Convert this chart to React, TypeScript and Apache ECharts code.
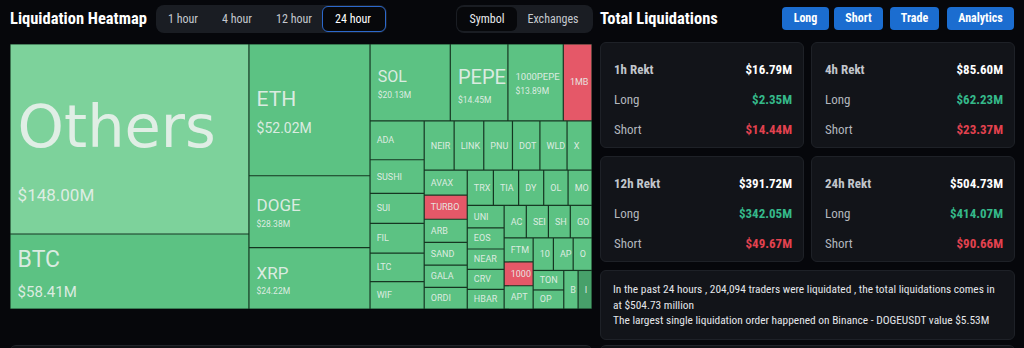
import React, { useEffect, useRef } from "react";
import * as echarts from "echarts";

// ---------- data ----------
const SYMBOLS = [
  "Others", "BTC", "ETH", "DOGE", "XRP", "SOL", "PEPE", "1000PEPE", "1MBABYDOGE",
  "ADA", "SUSHI", "SUI", "FIL", "LTC", "WIF",
  "NEIRO", "LINK", "PNUT", "DOT", "WLD", "X",
  "AVAX", "TURBO", "ARB", "SAND", "GALA", "ORDI",
  "TRX", "TIA", "DYDX", "OL", "MOODENG",
  "UNI", "EOS", "NEAR", "CRV", "HBAR",
  "ACT", "SEI", "SHIB", "GOAT",
  "FTM", "1000SATS", "APT",
  "1000BONK", "APE", "ONDO",
  "TON", "OP",
  "BOME", "INJ",
];
const VALUES_M = [
  148.0, 58.41, 52.02, 28.38, 24.22, 20.13, 14.45, 13.89, 7.2,
  6.85, 5.95, 5.3, 5.25, 5.0, 4.85,
  4.8, 4.75, 4.6, 4.4, 4.35, 4.0,
  3.5, 3.4, 3.25, 3.2, 3.1, 3.05,
  3.0, 2.9, 2.88, 2.8, 2.75,
  2.7, 2.55, 2.45, 2.4, 2.36,
  2.35, 2.34, 2.32, 2.3,
  2.28, 2.25, 2.2,
  2.15, 2.1, 2.0,
  1.95, 1.9,
  1.8, 1.75,
];
const SHORT_HEAVY = ["1MBABYDOGE", "TURBO", "1000SATS"];
const AGGREGATE = ["Others"];
const DEEP = ["INJ"];

const TIME_TABS = ["1 hour", "4 hour", "12 hour", "24 hour"];
const VIEW_TABS = ["Symbol", "Exchanges"];
const ACTIONS = ["Long", "Short", "Trade", "Analytics"];

const PERIODS = ["1h", "4h", "12h", "24h"];
const REKT_TOTAL = [16.79, 85.6, 391.72, 504.73];
const REKT_LONG = [2.35, 62.23, 342.05, 414.07];
const REKT_SHORT = [14.44, 23.37, 49.67, 90.66];

const TRADERS_24H = "204,094";
const TOTAL_24H = 504.73;
const LARGEST_EXCHANGE = "Binance";
const LARGEST_PAIR = "DOGEUSDT";
const LARGEST_VALUE = 5.53;

// ---------- styles ----------
const UI_FONT = "'Liberation Sans Narrow', 'Roboto Condensed', Roboto, sans-serif";
const TILE_FONT = "Roboto, sans-serif";
const GREEN = "#5cc283";
const GREEN_LIGHT = "#7dd29b";
const GREEN_DEEP = "#47a06a";
const RED = "#e55868";
const TEXT_ON_TILE = "rgba(232,240,235,0.92)";

// name size, name line height, value size, value line height
const BIG_LABEL: Record<string, [number, number, number, number]> = {
  Others: [59, 112, 17, 26],
  BTC: [23, 40, 15, 24],
  ETH: [21, 36, 14, 21],
  DOGE: [17, 25, 8.5, 13],
  XRP: [17, 25, 8.5, 11],
  SOL: [16, 25, 8.5, 11],
  PEPE: [20, 36, 8.5, 11],
  "1000PEPE": [9.5, 18, 8.5, 12],
};

function tileColor(name: string) {
  if (AGGREGATE.includes(name)) return GREEN_LIGHT;
  if (SHORT_HEAVY.includes(name)) return RED;
  if (DEEP.includes(name)) return GREEN_DEEP;
  return GREEN;
}

function Heatmap() {
  const ref = useRef<HTMLDivElement>(null);
  useEffect(() => {
    if (!ref.current) return;
    const chart = echarts.init(ref.current, undefined, { renderer: "svg" });
    const data = SYMBOLS.map((name, i) => {
      const big = BIG_LABEL[name];
      const item: any = {
        name,
        value: VALUES_M[i],
        itemStyle: { color: tileColor(name) },
      };
      if (big) {
        item.label = {
          verticalAlign: "top",
          offset: [0, -(big[1] + big[3]) / 2],
          padding: [0, 0, 0, 7],
          rich: {
            n: {
              fontSize: big[0],
              lineHeight: big[1],
              color: TEXT_ON_TILE,
              fontFamily: name === "Others" ? "'DejaVu Sans', Roboto, sans-serif" : TILE_FONT,
            },
            v: { fontSize: big[2], lineHeight: big[3], color: TEXT_ON_TILE, fontFamily: TILE_FONT },
          },
        };
      }
      return item;
    });
    chart.setOption({
      animation: false,
      series: [
        {
          type: "treemap",
          left: 10,
          top: 44,
          width: 582,
          height: 265,
          roam: false,
          nodeClick: false,
          breadcrumb: { show: false },
          itemStyle: { borderColor: "#163622", borderWidth: 0.6, gapWidth: 0 },
          levels: [{ itemStyle: { borderWidth: 0, gapWidth: 0, borderColor: "#163622" } }],
          label: {
            show: true,
            position: "insideLeft",
            distance: 0,
            padding: [0, 0, 0, 6],
            overflow: "truncate",
            ellipsis: "",
            color: TEXT_ON_TILE,
            fontFamily: TILE_FONT,
            fontSize: 9,
            formatter: (p: any) =>
              BIG_LABEL[p.name]
                ? `{n|${p.name}}\n{v|$${Number(p.value).toFixed(2)}M}`
                : p.name,
          },
          data,
        },
      ],
    });
    return () => chart.dispose();
  }, []);
  return <div ref={ref} style={{ position: "absolute", left: 0, top: 0, width: 600, height: 348 }} />;
}

const abs = (x: number, y: number, w: number, h: number): React.CSSProperties => ({
  position: "absolute",
  left: x,
  top: y,
  width: w,
  height: h,
});

function RektCard({ x, y, i }: { x: number; y: number; i: number }) {
  const row = (label: string, value: string, color: string, top: number, bold: boolean) => (
    <div style={{ ...abs(13, top, 178, 18), display: "flex", justifyContent: "space-between", alignItems: "center" }}>
      <span style={{ color: bold ? "#c2c6cc" : "#b3b7be", fontSize: 13, fontWeight: bold ? 700 : 400 }}>{label}</span>
      <span style={{ color, fontSize: 13, fontWeight: 700 }}>{value}</span>
    </div>
  );
  return (
    <div
      style={{
        ...abs(x, y, 204, 106),
        boxSizing: "border-box",
        background: "#121419",
        border: "1px solid #1e2127",
        borderRadius: 6,
      }}
    >
      {row(`${PERIODS[i]} Rekt`, `$${REKT_TOTAL[i].toFixed(2)}M`, "#ffffff", 17, true)}
      {row("Long", `$${REKT_LONG[i].toFixed(2)}M`, "#35b98a", 47, false)}
      {row("Short", `$${REKT_SHORT[i].toFixed(2)}M`, "#e2424f", 77, false)}
    </div>
  );
}

export default function App() {
  const timeCenters = [183, 237, 294, 353];
  const viewCenters = [487, 553];
  const actionBoxes = [
    [782, 47],
    [834, 49],
    [890, 49],
    [947, 67],
  ];
  return (
    <div
      style={{
        position: "fixed",
        left: 0,
        top: 0,
        width: 1024,
        height: 348,
        background: "#06070b",
        overflow: "hidden",
        fontFamily: UI_FONT,
      }}
    >
      <div style={{ ...abs(10, 8, 150, 22), color: "#fff", fontSize: 16.5, fontWeight: 700, lineHeight: "22px", whiteSpace: "nowrap" }}>
        Liquidation Heatmap
      </div>

      <div style={{ ...abs(156, 5, 231, 28), background: "#1a1d23", borderRadius: 8 }} />
      <div
        style={{
          ...abs(322, 6, 64, 26),
          boxSizing: "border-box",
          background: "#07080b",
          border: "1.5px solid #2c68cc",
          borderRadius: 6,
        }}
      />
      {TIME_TABS.map((t, i) => (
        <div
          key={t}
          style={{
            ...abs(timeCenters[i] - 30, 9, 60, 20),
            textAlign: "center",
            lineHeight: "20px",
            fontSize: 12,
            color: i === 3 ? "#ffffff" : "#c5c9cf",
            whiteSpace: "nowrap",
          }}
        >
          {t}
        </div>
      ))}

      <div style={{ ...abs(456, 5, 137, 28), background: "#1a1d23", borderRadius: 8 }} />
      <div style={{ ...abs(457, 7, 60, 24), background: "#07080b", borderRadius: 6 }} />
      {VIEW_TABS.map((t, i) => (
        <div
          key={t}
          style={{
            ...abs(viewCenters[i] - 35, 9, 70, 20),
            textAlign: "center",
            lineHeight: "20px",
            fontSize: 12,
            color: i === 0 ? "#e8eaee" : "#c5c9cf",
            whiteSpace: "nowrap",
          }}
        >
          {t}
        </div>
      ))}

      <Heatmap />

      <div style={{ ...abs(600, 8, 160, 22), color: "#fff", fontSize: 16.5, fontWeight: 700, lineHeight: "22px", whiteSpace: "nowrap" }}>
        Total Liquidations
      </div>
      {ACTIONS.map((a, i) => (
        <div
          key={a}
          style={{
            ...abs(actionBoxes[i][0], 7, actionBoxes[i][1], 23),
            background: "#1b6dd0",
            borderRadius: 4,
            color: "#fff",
            fontSize: 12,
            fontWeight: 700,
            textAlign: "center",
            lineHeight: "23px",
          }}
        >
          {a}
        </div>
      ))}

      <RektCard x={600} y={42} i={0} />
      <RektCard x={811} y={42} i={1} />
      <RektCard x={600} y={156} i={2} />
      <RektCard x={811} y={156} i={3} />

      <div
        style={{
          ...abs(600, 270, 415, 70),
          boxSizing: "border-box",
          background: "#121419",
          border: "1px solid #1e2127",
          borderRadius: 6,
          padding: "11px 0 0 12px",
          color: "#e4e6ea",
          fontSize: 11.4,
          lineHeight: "15.5px",
          whiteSpace: "nowrap",
        }}
      >
        <div>
          In the past 24 hours , {TRADERS_24H} traders were liquidated , the total liquidations comes in
        </div>
        <div>at ${TOTAL_24H.toFixed(2)} million</div>
        <div>
          The largest single liquidation order happened on {LARGEST_EXCHANGE} - {LARGEST_PAIR} value ${LARGEST_VALUE.toFixed(2)}M
        </div>
      </div>

      <div style={{ ...abs(10, 345, 582, 12), background: "#101216", borderTop: "1px solid #22252b", borderRadius: 6 }} />
      <div style={{ ...abs(600, 345, 415, 12), background: "#101216", borderTop: "1px solid #22252b", borderRadius: 6 }} />
    </div>
  );
}
